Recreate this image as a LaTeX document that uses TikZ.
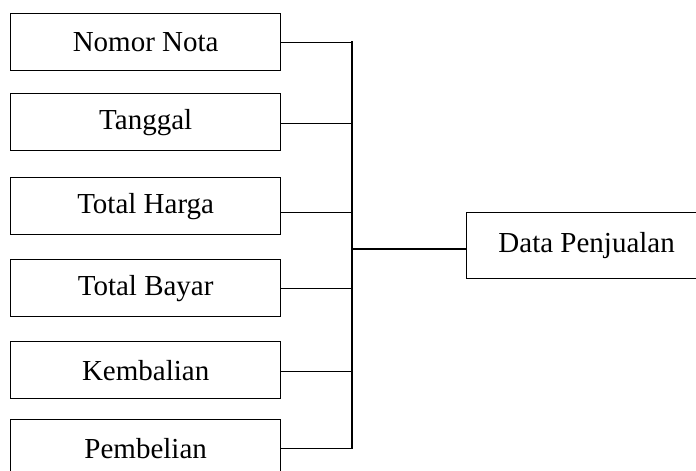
\documentclass[tikz,border=0pt]{standalone}
\usepackage{fontspec}
\setmainfont{Liberation Serif}
\begin{document}
\begin{tikzpicture}[x=1pt,y=-1pt,
  attrbox/.style={draw=black, line width=1.3pt, minimum width=270pt, minimum height=57pt, inner sep=0pt, anchor=north west, font=\fontsize{29}{30}\selectfont},
  link/.style={draw=black, line width=1.3pt}]
\useasboundingbox (0,0) rectangle (696,471);
\clip (0,0) rectangle (696,471);
\node[attrbox] (nn) at (10,13) {Nomor Nota};
\node[attrbox] (tg) at (10,93) {Tanggal};
\node[attrbox] (th) at (10,177) {Total Harga};
\node[attrbox] (tb) at (10,259) {Total Bayar};
\node[attrbox] (kb) at (10,341) {Kembalian};
\node[attrbox] (pb) at (10,419) {Pembelian};
\node[attrbox, minimum width=240pt, minimum height=66pt] (dp) at (466,212) {Data Penjualan};
\coordinate (bt) at (352,42);
\coordinate (bb) at (352,448);
\coordinate (bm) at (352,249);
\draw[link] ([yshift=-0.5pt]nn.east) -- ([yshift=-0.5pt]nn.east -| bt);
\draw[link] ([yshift=-1.5pt]tg.east) -- ([yshift=-1.5pt]tg.east -| bt);
\draw[link] ([yshift=-6.5pt]th.east) -- ([yshift=-6.5pt]th.east -| bt);
\draw[link] ([yshift=-0.5pt]tb.east) -- ([yshift=-0.5pt]tb.east -| bt);
\draw[link] ([yshift=-1.5pt]kb.east) -- ([yshift=-1.5pt]kb.east -| bt);
\draw[link] ([yshift=-0.5pt]pb.east) -- ([yshift=-0.5pt]pb.east -| bt);
\draw[link, line cap=rect] (bt) -- (bb);
\draw[link] (bm) -- (bm -| dp.west);
\end{tikzpicture}
\end{document}
